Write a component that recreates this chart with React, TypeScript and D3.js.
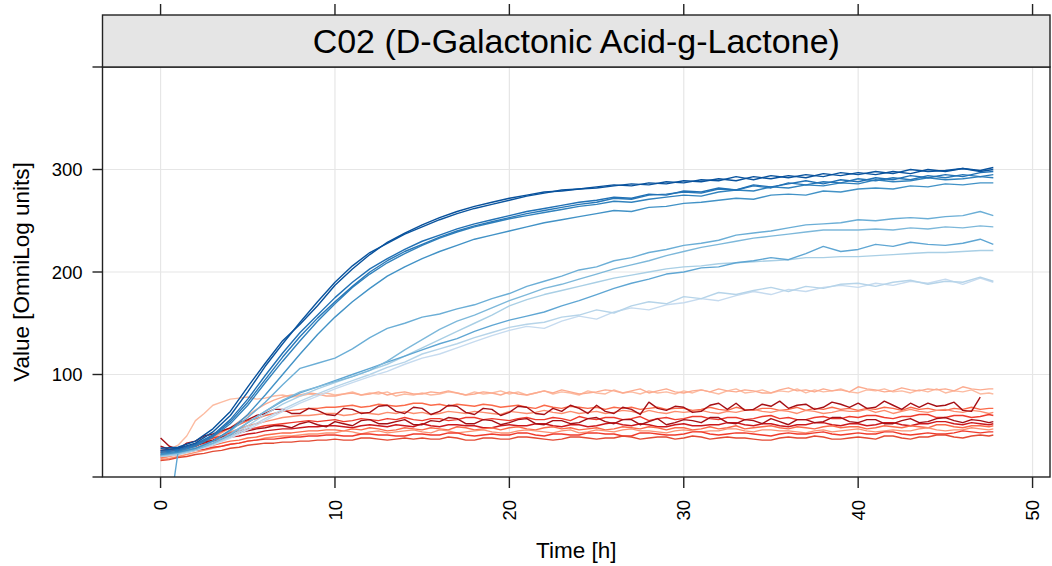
import React from "react";
import * as d3 from "d3";

// ---- data ----
const TITLE = "C02 (D-Galactonic Acid-g-Lactone)";
const X_LABEL = "Time [h]";
const Y_LABEL = "Value [OmniLog units]";
const X_TICKS = [0, 10, 20, 30, 40, 50];
const Y_TICKS = [0, 100, 200, 300, 400];
const Y_TICK_LABELS = ["", "100", "200", "300", ""];

// hourly readings (blue curves)
const TIMES = [
  0, 1, 2, 3, 4, 5, 6, 7, 8, 9, 10, 11, 12, 13, 14, 15, 16, 17, 18, 19, 20, 21, 22, 23, 24,
  25, 26, 27, 28, 29, 30, 31, 32, 33, 34, 35, 36, 37, 38, 39, 40, 41, 42, 43, 44, 45, 46, 47, 47.75,
];
// half-hourly readings (red curves)
const TIMES_H = [
  0, 0.5, 1, 1.5, 2, 2.5, 3, 3.5, 4, 4.5, 5, 5.5, 6, 6.5, 7, 7.5, 8, 8.5, 9, 9.5,
  10, 10.5, 11, 11.5, 12, 12.5, 13, 13.5, 14, 14.5, 15, 15.5, 16, 16.5, 17, 17.5, 18, 18.5, 19, 19.5,
  20, 20.5, 21, 21.5, 22, 22.5, 23, 23.5, 24, 24.5, 25, 25.5, 26, 26.5, 27, 27.5, 28, 28.5, 29, 29.5,
  30, 30.5, 31, 31.5, 32, 32.5, 33, 33.5, 34, 34.5, 35, 35.5, 36, 36.5, 37, 37.5, 38, 38.5, 39, 39.5,
  40, 40.5, 41, 41.5, 42, 42.5, 43, 43.5, 44, 44.5, 45, 45.5, 46, 46.5, 47, 47.5, 47.75,
];

// blue (growing) curves
const B1 = [28, 29, 35, 47, 64, 88, 111, 133, 149, 167, 187, 203, 217, 229, 238, 246, 253, 259, 264, 268, 272, 275, 278, 279, 281, 283, 285, 284, 287, 286, 289, 288, 291, 289, 293, 291, 294, 292, 296, 294, 297, 295, 298, 296, 300, 298, 301, 299, 302];
const B2 = [26, 28, 33, 44, 60, 83, 108, 130, 151, 171, 190, 206, 219, 228, 237, 244, 251, 257, 262, 266, 270, 274, 277, 280, 281, 282, 284, 286, 285, 288, 287, 290, 289, 293, 290, 294, 292, 295, 293, 297, 295, 298, 296, 300, 298, 299, 301, 298, 300];
const B3 = [25, 27, 32, 41, 56, 76, 99, 121, 141, 158, 175, 190, 203, 213, 222, 230, 236, 242, 247, 251, 255, 259, 262, 265, 268, 270, 273, 272, 276, 275, 279, 278, 282, 280, 285, 283, 286, 289, 286, 290, 288, 292, 290, 294, 292, 295, 293, 297, 298];
const B4 = [24, 26, 31, 40, 54, 73, 95, 117, 137, 155, 171, 186, 200, 211, 220, 227, 234, 240, 245, 249, 253, 257, 260, 263, 266, 268, 272, 271, 275, 276, 278, 277, 281, 280, 284, 282, 287, 285, 288, 287, 291, 289, 292, 290, 294, 292, 295, 293, 295];
const B5 = [23, 25, 30, 39, 52, 70, 92, 113, 133, 152, 169, 185, 198, 209, 218, 226, 233, 239, 244, 248, 252, 255, 258, 261, 264, 266, 269, 268, 271, 273, 275, 274, 278, 280, 279, 283, 282, 285, 284, 287, 286, 290, 288, 289, 292, 290, 291, 293, 292];
const B6 = [22, 24, 28, 35, 46, 61, 80, 100, 120, 139, 156, 171, 184, 196, 205, 213, 220, 226, 232, 236, 240, 244, 248, 251, 254, 257, 260, 259, 263, 264, 267, 268, 270, 272, 271, 275, 276, 275, 279, 278, 281, 282, 281, 284, 283, 286, 285, 287, 287];
const L1 = [22, 24, 28, 35, 45, 58, 73, 90, 106, 111, 116, 125, 136, 145, 150, 156, 159, 164, 168, 174, 179, 186, 191, 196, 202, 205, 211, 214, 219, 222, 226, 228, 231, 236, 238, 240, 243, 246, 247, 248, 251, 250, 252, 253, 252, 254, 255, 259, 255];
const L2 = [21, 23, 27, 33, 42, 53, 64, 75, 83, 88, 93, 98, 104, 113, 124, 134, 144, 152, 158, 165, 172, 178, 184, 188, 193, 198, 203, 207, 211, 216, 220, 224, 227, 230, 233, 235, 237, 239, 241, 241, 241, 242, 241, 243, 242, 244, 243, 245, 244];
const L3 = [-95, 24, 27, 33, 41, 53, 64, 74, 82, 88, 94, 100, 106, 112, 118, 124, 130, 135, 142, 148, 153, 157, 161, 167, 172, 178, 184, 189, 193, 198, 200, 204, 205, 209, 211, 214, 212, 218, 225, 220, 222, 227, 225, 229, 227, 226, 228, 232, 227];
const L4 = [20, 22, 26, 32, 40, 50, 61, 71, 79, 86, 92, 98, 104, 110, 118, 126, 134, 142, 150, 158, 167, 173, 178, 182, 186, 190, 194, 197, 200, 203, 205, 206, 208, 209, 210, 211, 212, 214, 214, 215, 215, 216, 217, 218, 219, 219, 220, 221, 221];
const L5 = [21, 23, 27, 32, 39, 48, 57, 66, 74, 81, 88, 94, 100, 107, 112, 120, 125, 130, 136, 141, 146, 149, 151, 156, 158, 163, 160, 167, 171, 169, 176, 174, 180, 178, 182, 185, 181, 186, 184, 188, 189, 186, 190, 192, 188, 191, 190, 195, 191];
const L6 = [20, 22, 26, 31, 38, 46, 55, 64, 72, 79, 86, 92, 98, 103, 110, 116, 120, 126, 132, 138, 143, 147, 145, 152, 157, 154, 161, 165, 163, 168, 170, 174, 172, 177, 181, 178, 183, 181, 185, 187, 185, 189, 187, 191, 189, 193, 188, 194, 190];

// red (non-growing) curves, half-hourly
const R1 = [25, 27, 31, 40, 55, 62, 70, 73, 76, 77, 78, 76, 77, 79, 80, 78, 79, 81, 80, 82, 80, 81, 83, 80, 82, 81, 83, 79, 81, 80, 82, 80, 81, 83, 82, 80, 83, 81, 82, 84, 81, 83, 80, 82, 84, 81, 83, 82, 80, 84, 82, 81, 85, 82, 83, 81, 84, 82, 83, 81, 84, 82, 85, 83, 81, 84, 86, 82, 83, 85, 82, 84, 83, 86, 82, 85, 83, 84, 86, 83, 82, 85, 84, 86, 83, 84, 82, 85, 83, 86, 82, 84, 83, 85, 81, 82, 81];
const R2 = [22, 23, 25, 27, 30, 34, 38, 43, 48, 54, 60, 66, 71, 75, 78, 80, 80, 82, 81, 79, 79, 81, 82, 80, 81, 83, 80, 82, 83, 81, 81, 83, 82, 84, 82, 80, 81, 83, 82, 80, 83, 81, 80, 82, 84, 82, 85, 83, 81, 82, 83, 85, 84, 82, 84, 86, 82, 84, 86, 83, 82, 84, 85, 83, 86, 84, 83, 85, 84, 82, 82, 85, 87, 84, 85, 83, 86, 84, 85, 83, 88, 86, 85, 83, 84, 87, 85, 84, 86, 85, 86, 84, 88, 86, 85, 86, 86];
const R3 = [20, 22, 24, 27, 31, 35, 40, 44, 48, 51, 55, 57, 60, 62, 64, 65, 66, 67, 67, 68, 68, 69, 70, 68, 69, 71, 70, 69, 70, 72, 72, 70, 71, 69, 71, 70, 69, 71, 70, 68, 69, 70, 68, 67, 70, 68, 67, 69, 68, 67, 68, 66, 68, 67, 68, 66, 67, 68, 66, 67, 67, 65, 66, 68, 66, 65, 68, 66, 65, 67, 67, 65, 66, 68, 65, 67, 66, 68, 66, 67, 65, 67, 66, 68, 67, 65, 68, 66, 67, 65, 65, 67, 66, 68, 66, 67, 67];
const R4 = [38, 30, 27, 33, 35, 40, 42, 45, 48, 53, 56, 60, 62, 66, 66, 62, 62, 67, 65, 61, 60, 67, 66, 62, 63, 69, 70, 64, 62, 68, 67, 61, 64, 70, 69, 63, 61, 67, 66, 60, 63, 69, 68, 62, 61, 67, 64, 70, 67, 62, 70, 64, 62, 68, 66, 61, 73, 67, 65, 69, 68, 63, 64, 70, 72, 66, 72, 65, 66, 71, 69, 74, 67, 70, 71, 66, 68, 73, 71, 68, 72, 67, 68, 74, 70, 66, 72, 68, 72, 69, 70, 73, 65, 64, 78];
const R5 = [18, 20, 22, 25, 28, 32, 36, 40, 44, 47, 50, 52, 54, 56, 58, 59, 60, 60, 61, 62, 62, 60, 61, 63, 62, 61, 63, 62, 64, 62, 63, 61, 62, 64, 63, 62, 64, 63, 62, 61, 64, 63, 62, 63, 65, 63, 62, 64, 62, 63, 64, 62, 63, 65, 64, 62, 65, 63, 62, 64, 63, 64, 65, 63, 62, 64, 63, 65, 66, 64, 63, 65, 64, 62, 65, 64, 62, 63, 65, 64, 64, 66, 63, 65, 62, 64, 66, 64, 63, 65, 66, 64, 63, 65, 64, 62, 63];
const R6 = [24, 25, 27, 29, 32, 35, 38, 40, 43, 45, 47, 48, 50, 51, 52, 53, 54, 55, 54, 55, 56, 54, 55, 57, 56, 55, 57, 56, 58, 56, 55, 57, 57, 55, 56, 58, 58, 56, 57, 56, 55, 57, 58, 56, 56, 58, 57, 55, 59, 57, 56, 58, 58, 56, 57, 59, 55, 57, 58, 56, 57, 59, 59, 57, 56, 58, 58, 56, 57, 59, 60, 57, 58, 56, 56, 58, 59, 57, 57, 59, 58, 60, 60, 58, 57, 59, 59, 61, 61, 58, 58, 60, 60, 58, 59, 61, 60];
const R7 = [30, 27, 26, 29, 30, 34, 36, 39, 41, 43, 45, 47, 48, 50, 50, 48, 52, 54, 51, 49, 54, 52, 50, 55, 56, 52, 52, 54, 56, 51, 51, 55, 54, 58, 57, 52, 52, 56, 55, 51, 53, 56, 57, 52, 51, 55, 55, 52, 53, 57, 58, 54, 52, 56, 56, 51, 54, 57, 51, 53, 56, 55, 53, 58, 58, 53, 52, 56, 55, 52, 57, 54, 51, 56, 56, 53, 54, 58, 58, 54, 53, 56, 56, 52, 52, 55, 57, 53, 54, 57, 58, 55, 53, 56, 55, 53, 54];
const R8 = [26, 27, 28, 29, 31, 33, 35, 37, 39, 40, 42, 43, 45, 46, 47, 47, 48, 49, 49, 50, 50, 49, 48, 50, 51, 50, 49, 51, 50, 49, 52, 50, 49, 51, 51, 50, 50, 48, 48, 50, 51, 50, 50, 52, 52, 50, 49, 51, 51, 49, 50, 52, 53, 51, 50, 52, 51, 49, 49, 51, 52, 50, 50, 51, 51, 53, 53, 51, 50, 52, 52, 50, 49, 51, 51, 53, 53, 51, 50, 52, 52, 50, 51, 53, 53, 51, 50, 52, 52, 54, 54, 52, 51, 53, 52, 51, 52];
const R9 = [19, 21, 23, 25, 27, 29, 31, 33, 35, 36, 38, 39, 41, 42, 43, 43, 44, 45, 45, 46, 46, 45, 47, 46, 48, 47, 45, 46, 48, 47, 46, 48, 47, 46, 49, 48, 46, 47, 48, 46, 48, 49, 47, 46, 48, 49, 47, 48, 46, 47, 48, 46, 47, 49, 48, 47, 49, 48, 46, 48, 48, 46, 47, 49, 47, 48, 50, 47, 48, 49, 50, 48, 47, 49, 48, 47, 49, 50, 48, 49, 49, 47, 48, 50, 49, 48, 50, 49, 48, 51, 51, 49, 48, 50, 50, 49, 50];
const R10 = [17, 18, 20, 22, 24, 26, 28, 30, 32, 33, 35, 36, 38, 39, 40, 40, 41, 42, 42, 43, 43, 45, 44, 42, 44, 45, 43, 44, 45, 46, 44, 43, 46, 45, 43, 44, 45, 46, 44, 43, 43, 45, 46, 45, 44, 43, 45, 46, 43, 44, 46, 45, 44, 46, 47, 45, 45, 44, 43, 45, 46, 45, 44, 45, 45, 47, 47, 45, 44, 46, 46, 45, 45, 44, 43, 45, 46, 44, 45, 46, 47, 45, 44, 45, 46, 45, 45, 47, 48, 46, 45, 46, 46, 48, 47, 46, 47];
const R11 = [21, 22, 23, 24, 26, 27, 29, 30, 32, 33, 35, 36, 37, 37, 38, 39, 39, 40, 40, 41, 41, 40, 40, 42, 42, 41, 41, 40, 40, 42, 42, 41, 41, 43, 43, 41, 40, 41, 42, 41, 41, 43, 43, 41, 40, 42, 42, 41, 41, 43, 43, 42, 42, 40, 40, 43, 43, 42, 41, 41, 42, 44, 44, 42, 41, 42, 43, 43, 42, 41, 40, 42, 43, 42, 42, 43, 44, 42, 41, 42, 43, 42, 42, 44, 44, 42, 41, 42, 43, 42, 42, 43, 45, 44, 43, 44, 44];
const R12 = [16, 17, 19, 20, 22, 23, 25, 26, 28, 29, 31, 32, 33, 33, 34, 34, 35, 35, 36, 36, 37, 36, 36, 38, 38, 37, 36, 37, 38, 37, 38, 37, 37, 39, 38, 36, 36, 38, 38, 37, 37, 39, 39, 38, 37, 36, 37, 39, 39, 38, 37, 38, 38, 40, 39, 37, 38, 39, 39, 37, 38, 40, 39, 37, 38, 39, 38, 38, 37, 36, 36, 38, 39, 38, 38, 40, 39, 37, 37, 38, 39, 38, 37, 40, 40, 38, 37, 39, 39, 41, 41, 39, 38, 40, 41, 40, 41];

const RED_SERIES = [R1, R2, R3, R5, R6, R8, R9, R10, R11, R12, R7, R4];
const RED_COLORS = ["#fcbba1", "#fcab8f", "#fb6a4a", "#fc8d6e", "#ef3b2c", "#cb181d", "#fb6a4a", "#fc9272", "#ef3b2c", "#e34a33", "#a50f15", "#a50f15"];
const BLUE_SERIES = [L6, L5, L4, L3, L2, L1, B6, B5, B4, B3, B2, B1];
const BLUE_COLORS = ["#c6dbef", "#b6d4e9", "#a9cfe5", "#5fa6d3", "#7db8da", "#6baed6", "#4292c6", "#3182bd", "#2878b8", "#2171b5", "#0b559f", "#08519c"];

// ---- layout ----
const W = 1052;
const H = 566;
const PL = 102.5;
const PR = 1050;
const PT = 67;
const PB = 477;
const STRIP_TOP = 15;

export default function App() {
  const x = d3.scaleLinear().domain([-3.33, 51.0]).range([PL, PR]);
  const y = d3.scaleLinear().domain([0, 400]).range([PB, PT]);
  const lineOn = (times: number[]) =>
    d3
      .line<number>()
      .x((_, i) => x(times[i]))
      .y((d) => y(d));
  const lineHourly = lineOn(TIMES);
  const lineHalf = lineOn(TIMES_H);

  const font = "'Liberation Sans', Arial, Helvetica, sans-serif";
  const ink = "#222";

  return (
    <svg
      width={W}
      height={H}
      style={{ position: "absolute", left: 0, top: 0, background: "#fff" }}
      fontFamily={font}
    >
      <defs>
        <clipPath id="panel">
          <rect x={PL} y={PT} width={PR - PL} height={PB - PT} />
        </clipPath>
      </defs>
      <rect x={0} y={0} width={W} height={H} fill="#fff" />
      {/* grid */}
      <g stroke="#e6e6e6" strokeWidth={1.2}>
        {X_TICKS.map((t) => (
          <line key={"gx" + t} x1={x(t)} x2={x(t)} y1={PT} y2={PB} />
        ))}
        {Y_TICKS.filter((t) => t > 0 && t < 400).map((t) => (
          <line key={"gy" + t} x1={PL} x2={PR} y1={y(t)} y2={y(t)} />
        ))}
      </g>
      {/* curves */}
      <g clipPath="url(#panel)" fill="none" strokeWidth={1.4} strokeLinejoin="round">
        {RED_SERIES.map((s, i) => (
          <path key={"r" + i} d={lineHalf(s) || ""} stroke={RED_COLORS[i]} />
        ))}
        {BLUE_SERIES.map((s, i) => (
          <path key={"b" + i} d={lineHourly(s) || ""} stroke={BLUE_COLORS[i]} />
        ))}
      </g>
      {/* panel border */}
      <rect x={PL} y={PT} width={PR - PL} height={PB - PT} fill="none" stroke={ink} strokeWidth={1.4} />
      {/* strip */}
      <rect x={PL} y={STRIP_TOP} width={PR - PL} height={PT - STRIP_TOP} fill="#e5e5e5" stroke={ink} strokeWidth={1.4} />
      <text x={(PL + PR) / 2} y={52.7} fontSize={34} textAnchor="middle" fill="#000">
        {TITLE}
      </text>
      {/* ticks */}
      <g stroke={ink} strokeWidth={1.4}>
        {X_TICKS.map((t) => (
          <line key={"bt" + t} x1={x(t)} x2={x(t)} y1={PB} y2={PB + 11} />
        ))}
        {X_TICKS.map((t) => (
          <line key={"tt" + t} x1={x(t)} x2={x(t)} y1={STRIP_TOP} y2={STRIP_TOP - 11} />
        ))}
        {Y_TICKS.map((t) => (
          <line key={"lt" + t} x1={PL} x2={PL - 10} y1={y(t)} y2={y(t)} />
        ))}
      </g>
      {/* tick labels */}
      {X_TICKS.map((t) => (
        <text
          key={"xl" + t}
          transform={`translate(${x(t) + 6.6},500) rotate(-90)`}
          textAnchor="end"
          fontSize={18.5}
          fill="#000"
        >
          {String(t)}
        </text>
      ))}
      {Y_TICKS.map((t, i) => (
        <text key={"yl" + t} x={82.5} y={y(t)} dy="0.36em" textAnchor="end" fontSize={18.5} fill="#000">
          {Y_TICK_LABELS[i]}
        </text>
      ))}
      {/* axis titles */}
      <text x={(PL + PR) / 2} y={557.5} textAnchor="middle" fontSize={22.5} fill="#000">
        {X_LABEL}
      </text>
      <text transform={`translate(28.5,${(PT + PB) / 2}) rotate(-90)`} textAnchor="middle" fontSize={22.5} fill="#000">
        {Y_LABEL}
      </text>
    </svg>
  );
}
